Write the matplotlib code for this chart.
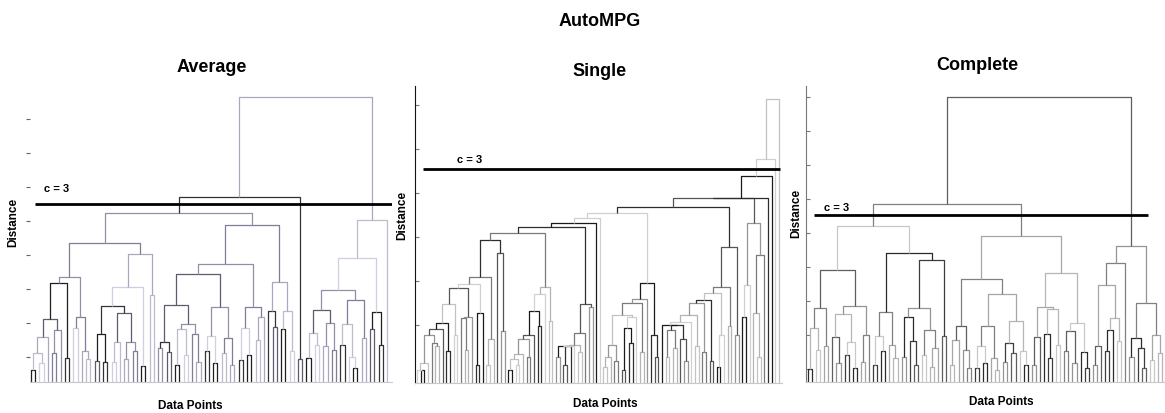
import numpy as np
import matplotlib
matplotlib.use("Agg")
import matplotlib.pyplot as plt
from matplotlib.collections import LineCollection

plt.rcParams['font.family'] = ['Liberation Sans Narrow', 'Liberation Sans', 'DejaVu Sans']

# merge height between each pair of neighbouring leaves
avg_gaps = [
    0.36, 0.85, 0.56, 1.31, 1.85, 0.84, 1.54, 2.91, 0.70, 3.10, 1.60, 1.90, 0.92, 0.68,
    4.10,
    0.62, 1.40, 0.60, 2.24, 0.60, 1.19, 2.03, 0.68, 1.17, 0.92, 2.80, 0.48, 3.76, 2.56,
    4.96,
    1.00, 1.19, 0.87, 2.27, 0.50, 1.56, 0.80, 1.72, 1.40, 0.60, 3.17, 0.90, 1.35, 0.55,
    2.20, 0.85, 1.30, 0.50,
    3.47,
    0.65, 1.60, 0.80, 2.20, 1.25, 1.90,
    4.62,
    2.08, 1.62, 2.93, 1.56, 2.08, 0.92,
    5.43, 0.68,
    8.37,
    0.70, 1.44, 1.10, 2.13, 1.05, 1.73, 0.95, 2.70, 1.10, 1.70, 0.75, 0.40, 2.42, 1.30,
    3.64, 1.56, 2.07, 1.10, 4.77,
]

sgl_gaps = [
    0.30, 0.30, 0.45, 1.09, 0.90, 0.83, 1.22, 1.36, 0.73, 1.79, 1.10, 2.17, 1.47, 0.75,
    1.50, 2.25, 0.40, 1.60, 2.42, 0.40, 1.00, 3.25, 2.95, 1.19,
    3.40,
    0.30, 0.54, 0.40, 0.67, 0.99, 0.60, 1.09, 1.64, 1.30, 2.02, 2.19, 1.40,
    3.55,
    0.60, 0.83, 0.40, 0.83, 0.85, 0.86, 0.70, 1.13, 1.80, 1.73,
    3.64, 3.75, 3.86,
    0.37, 0.60, 0.86, 0.50, 1.55, 0.30, 1.24, 0.90, 1.50, 1.81, 0.70, 1.92, 2.27, 1.10, 0.60,
    3.99,
    1.32, 0.60, 1.20, 0.80, 1.32, 1.00, 0.50, 1.39, 1.55, 0.83, 1.81, 0.70, 1.89, 0.50,
    2.04, 0.37, 1.10, 2.19, 1.30, 3.10, 1.10,
    4.20,
    1.50, 2.23, 3.64, 1.60, 0.60, 2.90,
    4.21, 4.70, 5.08, 6.45,
]

cmp_gaps = [
    0.38, 1.60, 0.95, 2.17, 1.07, 3.30, 1.33, 0.55, 2.00, 0.80, 1.19, 0.40, 2.23, 0.60, 1.38,
    4.60,
    0.50, 1.34, 0.90, 2.05, 1.10, 0.70, 3.80, 0.75, 1.90, 1.20, 0.50, 2.17, 0.80, 1.54,
    0.45, 1.00, 3.60, 1.34,
    5.25,
    0.50, 1.25, 1.66, 0.95, 0.40, 3.03, 0.40, 1.05, 0.55, 1.66, 0.70, 0.35, 2.60, 0.60,
    1.15, 0.85, 1.78, 0.90, 0.50,
    4.28,
    0.50, 1.31, 2.22, 1.40, 0.70, 2.15, 1.10, 3.20, 0.90, 1.50, 0.55, 1.75, 0.87, 0.40,
    8.37,
    0.50, 1.07, 2.86, 0.90, 1.54, 1.87, 1.20, 3.49,
    3.99,
    0.75, 1.28, 1.00, 0.40, 2.31, 0.65, 1.39, 0.85,
]

titles = ['Average', 'Single', 'Complete']
cut_heights = [5.24, 4.86, 4.91]
avg_ticks = [0.74, 1.74, 2.74, 3.74, 4.74, 5.74, 6.74, 7.74]
sgl_ticks = [1.32, 2.32, 3.32, 4.32, 5.32, 6.32]
cmp_ticks = [0.38, 1.38, 2.38, 3.38, 4.38, 5.38, 6.38, 7.38, 8.38]

W, H = 1165, 414
fig = plt.figure(figsize=(W / 100, H / 100), dpi=100)
fig.patch.set_facecolor('white')

avg_shades = ['#1e1e1e', '#a8a8c0', '#5c5c6e', '#cfcfe2', '#7e7e98', '#333333', '#bcbccc', '#9090a8']
sgl_shades = ['#1a1a1a', '#b4b4b4', '#555555', '#d0d0d0', '#7a7a7a', '#2e2e2e', '#c2c2c2', '#959595']
cmp_shades = ['#2a2a2a', '#a6a6a6', '#5e5e5e', '#c8c8c8', '#808080', '#3c3c3c', '#b6b6b6', '#949494']


def build(gaps, lo, hi, segs):
    if lo == hi:
        return float(lo), 0.0
    k = lo + int(np.argmax(gaps[lo:hi]))
    xl, hl = build(gaps, lo, k, segs)
    xr, hr = build(gaps, k + 1, hi, segs)
    h = gaps[k]
    segs.append([(xl, hl), (xl, h), (xr, h), (xr, hr)])
    return (xl + xr) / 2, h


def panel(gaps, box, leaf_px, unit, ticks, cut_h, cut_px, spine_col, shades):
    L, R, T, B = box
    n = len(gaps) + 1
    ax = fig.add_axes([L / W, 1 - B / H, (R - L) / W, (B - T) / H])
    s = (leaf_px[1] - leaf_px[0]) / (n - 1)
    ax.set_xlim(-(leaf_px[0] - L) / s, (n - 1) + (R - leaf_px[1]) / s)
    ax.set_ylim(0, (B - T) / unit)

    segs = []
    build(np.array(gaps), 0, n - 1, segs)
    cols = [shades[(i * 3) % len(shades)] for i in range(len(segs))]
    ax.add_collection(LineCollection(segs, colors=cols, linewidths=0.9))

    px2x = lambda p: (p - leaf_px[0]) / s
    ax.hlines(cut_h, px2x(cut_px[0]), px2x(cut_px[1]), color='black', lw=2.0, zorder=5)

    ax.set_xticks([])
    ax.set_yticks(ticks)
    ax.set_yticklabels([])
    for side in ['top', 'right']:
        ax.spines[side].set_visible(False)
    ax.spines['bottom'].set_color('#c8c8c8')
    if spine_col is None:
        ax.spines['left'].set_visible(False)
        ax.tick_params(axis='y', direction='out', length=3, color='#666666', width=0.8)
    else:
        ax.spines['left'].set_color(spine_col)
        ax.tick_params(axis='y', direction='in', length=3, color='#777777', width=0.8)
    return ax


panel(avg_gaps, (30, 392, 88, 383), (31, 387), 34, avg_ticks, cut_heights[0], (35, 392), None, avg_shades)
panel(sgl_gaps, (415, 782, 87, 384), (417, 779), 44, sgl_ticks, cut_heights[1], (423, 780), '#111111', sgl_shades)
panel(cmp_gaps, (806, 1165, 87, 383), (808, 1162), 34, cmp_ticks, cut_heights[2], (814, 1148), '#777777', cmp_shades)


def ftext(x, y, s, **kw):
    fig.text(x / W, 1 - y / H, s, ha='center', va='center', fontweight='bold', **kw)


ftext(600, 21, 'AutoMPG', fontsize=13)
ftext(212, 68, titles[0], fontsize=13)
ftext(600, 72, titles[1], fontsize=13)
ftext(977, 66, titles[2], fontsize=13)

for x, y in [(13, 222), (402, 215), (796, 213)]:
    ftext(x, y, 'Distance', fontsize=8.5, rotation=90)
for x, y in [(190, 406), (605, 404), (1001, 402)]:
    ftext(x, y, 'Data Points', fontsize=8.5)
for x, y in [(57, 189), (470, 160), (837, 208)]:
    ftext(x, y, 'c = 3', fontsize=8)

fig.savefig('out.png', dpi=100, facecolor='white')
